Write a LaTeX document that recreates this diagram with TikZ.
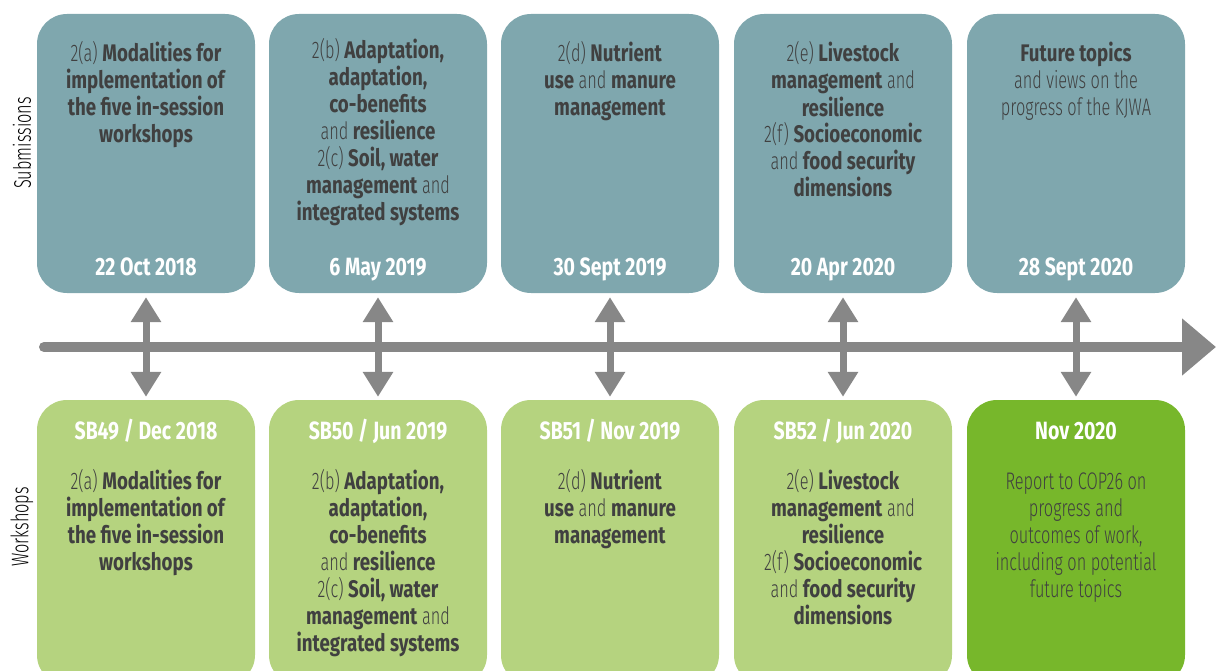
\documentclass[tikz,border=0pt]{standalone}
\usepackage{fontspec}
\setmainfont{Fira Sans}[FakeStretch=0.68, UprightFont=* Light, BoldFont=* Bold, BoldFeatures={FakeStretch=0.78}]
\usetikzlibrary{arrows.meta}

\definecolor{subfill}{HTML}{7FA7AE}
\definecolor{wsfill}{HTML}{B5D37F}
\definecolor{copfill}{HTML}{77B72B}
\definecolor{arrgray}{HTML}{878787}
\definecolor{txtgray}{HTML}{404040}

\newcommand{\bodysize}{\fontsize{24}{27}\selectfont}

% body texts are placed by the baseline of their last line
\tikzset{
  subbox/.style={rounded corners=30, fill=subfill, minimum width=218, minimum height=279, inner sep=0},
  wsbox/.style={rounded corners=30, fill=wsfill, minimum width=218, minimum height=285, inner sep=0},
  bodytxt/.style={anchor=base, align=center, text=txtgray, font=\bodysize, inner sep=0},
  datetxt/.style={anchor=base, text=white, font=\fontsize{25}{27}\selectfont\bfseries, inner sep=0},
  sidetxt/.style={rotate=90, text=black, font=\fontsize{24}{27}\selectfont, inner sep=0},
  link/.style={draw=arrgray, line width=7, {Triangle[width=29,length=25]}-{Triangle[width=29,length=25]}, shorten <=4, shorten >=3},
}

\begin{document}
\begin{tikzpicture}[x=1pt,y=-1pt]
\useasboundingbox (0,0) rectangle (1216,671);
\clip (0,0) rectangle (1216,671);

% side labels
\node[sidetxt] (lsub) at (22,143) {Submissions};
\node[sidetxt] (lws) at (22,527) {Workshops};

% submission boxes
\node[subbox] (s1) at (146,153.5) {};
\node[subbox] (s2) at (378,153.5) {};
\node[subbox] (s3) at (610,153.5) {};
\node[subbox] (s4) at (843,153.5) {};
\node[subbox] (s5) at (1076,153.5) {};

\node[bodytxt] (s1txt) at (146,143) {2(a) \textbf{Modalities for}\\\textbf{implementation of}\\\textbf{the five in-session}\\\textbf{workshops}};
\node[bodytxt] (s2txt) at (378,221) {2(b) \textbf{Adaptation,}\\\textbf{adaptation,}\\\textbf{co-benefits}\\and \textbf{resilience}\\2(c) \textbf{Soil, water}\\\textbf{management} and\\\textbf{integrated systems}};
\node[bodytxt] (s3txt) at (610,116) {2(d) \textbf{Nutrient}\\\textbf{use} and \textbf{manure}\\\textbf{management}};
\node[bodytxt] (s4txt) at (843,197) {2(e) \textbf{Livestock}\\\textbf{management} and\\\textbf{resilience}\\2(f) \textbf{Socioeconomic}\\and \textbf{food security}\\\textbf{dimensions}};
\node[bodytxt] (s5txt) at (1076,116) {\textbf{Future topics}\\and views on the\\progress of the KJWA};

\node[datetxt] (s1date) at (146,276) {22 Oct 2018};
\node[datetxt] (s2date) at (378,276) {6 May 2019};
\node[datetxt] (s3date) at (610,276) {30 Sept 2019};
\node[datetxt] (s4date) at (843,276) {20 Apr 2020};
\node[datetxt] (s5date) at (1076,276) {28 Sept 2020};

% workshop boxes
\node[wsbox] (w1) at (146,542.5) {};
\node[wsbox] (w2) at (378,542.5) {};
\node[wsbox] (w3) at (610,542.5) {};
\node[wsbox] (w4) at (843,542.5) {};
\node[wsbox, fill=copfill] (w5) at (1076,542.5) {};

\node[datetxt] (w1head) at (146,439) {SB49 / Dec 2018};
\node[datetxt] (w2head) at (378,439) {SB50 / Jun 2019};
\node[datetxt] (w3head) at (610,439) {SB51 / Nov 2019};
\node[datetxt] (w4head) at (843,439) {SB52 / Jun 2020};
\node[datetxt] (w5head) at (1076,439) {Nov 2020};

\node[bodytxt] (w1txt) at (146,570) {2(a) \textbf{Modalities for}\\\textbf{implementation of}\\\textbf{the five in-session}\\\textbf{workshops}};
\node[bodytxt] (w2txt) at (378,651) {2(b) \textbf{Adaptation,}\\\textbf{adaptation,}\\\textbf{co-benefits}\\and \textbf{resilience}\\2(c) \textbf{Soil, water}\\\textbf{management} and\\\textbf{integrated systems}};
\node[bodytxt] (w3txt) at (610,543) {2(d) \textbf{Nutrient}\\\textbf{use} and \textbf{manure}\\\textbf{management}};
\node[bodytxt] (w4txt) at (843,624) {2(e) \textbf{Livestock}\\\textbf{management} and\\\textbf{resilience}\\2(f) \textbf{Socioeconomic}\\and \textbf{food security}\\\textbf{dimensions}};
\node[bodytxt] (w5txt) at (1076,597) {Report to COP26 on\\progress and\\outcomes of work,\\including on potential\\future topics};

% timeline
\coordinate (tstart) at (44,347);
\coordinate (tend) at (1216,347);
\draw[arrgray, line width=10, line cap=round, -{Triangle[width=55,length=34]}] (tstart) -- (tend);

% links
\draw[link] (s1) -- (w1);
\draw[link] (s2) -- (w2);
\draw[link] (s3) -- (w3);
\draw[link] (s4) -- (w4);
\draw[link] (s5) -- (w5);

\end{tikzpicture}
\end{document}
